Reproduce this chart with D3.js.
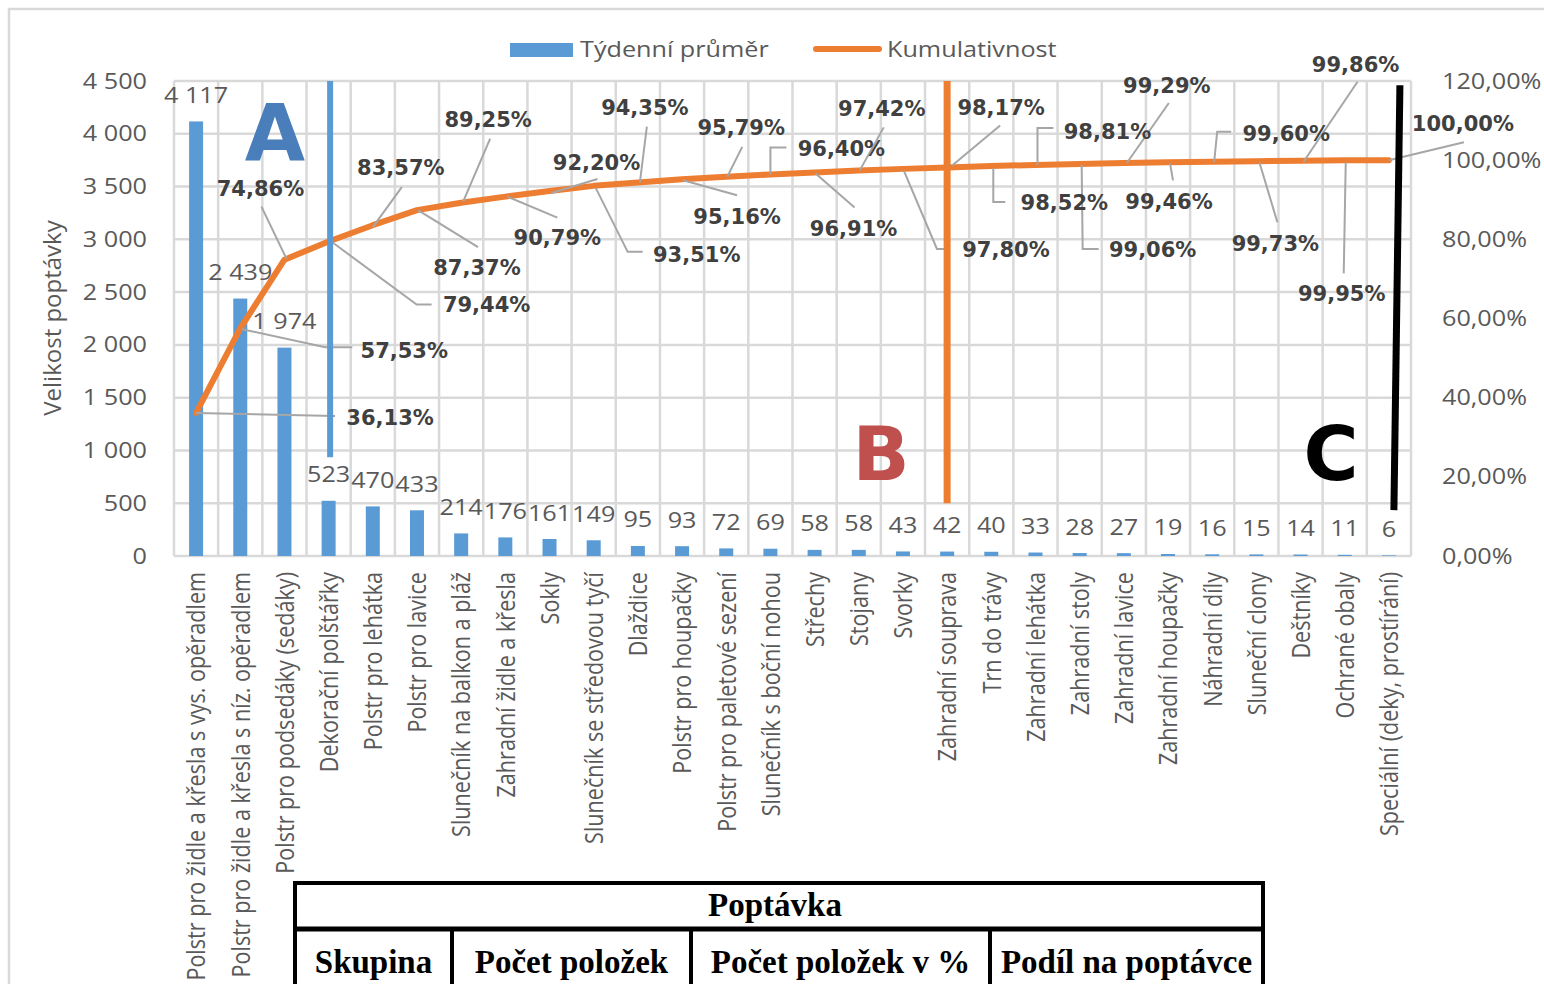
<!DOCTYPE html>
<html>
<head>
<meta charset="utf-8">
<script src="https://cdn.jsdelivr.net/npm/d3@7"></script>
<style>
  body { margin: 0; background: #fff; }
</style>
</head>
<body>
<svg width="1544" height="984" font-family="'Open Sans', sans-serif"></svg>
<script>
const categories = [
  "Polstr pro židle a křesla s vys. opěradlem",
  "Polstr pro židle a křesla s níz. opěradlem",
  "Polstr pro podsedáky (sedáky)",
  "Dekorační polštářky",
  "Polstr pro lehátka",
  "Polstr pro lavice",
  "Slunečník na balkon a pláž",
  "Zahradní židle a křesla",
  "Sokly",
  "Slunečník se středovou tyčí",
  "Dlaždice",
  "Polstr pro houpačky",
  "Polstr pro paletové sezení",
  "Slunečník s boční nohou",
  "Střechy",
  "Stojany",
  "Svorky",
  "Zahradní souprava",
  "Trn do trávy",
  "Zahradní lehátka",
  "Zahradní stoly",
  "Zahradní lavice",
  "Zahradní houpačky",
  "Náhradní díly",
  "Sluneční clony",
  "Deštníky",
  "Ochrané obaly",
  "Speciální (deky, prostírání)"
];
const weekly = [4117, 2439, 1974, 523, 470, 433, 214, 176, 161, 149, 95, 93, 72, 69,
  58, 58, 43, 42, 40, 33, 28, 27, 19, 16, 15, 14, 11, 6];
const cumulative = [36.13, 57.53, 74.86, 79.44, 83.57, 87.37, 89.25, 90.79, 92.20, 93.51,
  94.35, 95.16, 95.79, 96.40, 96.91, 97.42, 97.80, 98.17, 98.52, 98.81, 99.06, 99.29,
  99.46, 99.60, 99.73, 99.86, 99.95, 100.00];
const leftTicks = [0, 500, 1000, 1500, 2000, 2500, 3000, 3500, 4000, 4500];
const rightTicks = [0, 20, 40, 60, 80, 100, 120];
const legendNames = ["Týdenní průměr", "Kumulativnost"];
const tableTitle = "Poptávka";
const tableCols = ["Skupina", "Počet položek", "Počet položek v %", "Podíl na poptávce"];

// hand placed data labels (offset of label centre from the point, leader line pieces)
const pctLayout = [
  { l: [194, 4], p: [[0, 0], [139, 3]] },
  { l: [164, 22], p: [[2, 1], [85, 19], [112, 19]] },
  { l: [-24, -71], p: [[2, -1], [-23, -53]] },
  { l: [158, 63], p: [[4, 1], [88, 63], [103, 63]] },
  { l: [28, -58], p: [[0, 2], [29, -38]] },
  { l: [60, 57], p: [[1, 0], [61, 37]] },
  { l: [27, -83], p: [[2, -1], [29, -64]] },
  { l: [52, 41], p: [[2, 0], [52, 21]] },
  { l: [47, -29], p: [[2, 2], [48, -12]] },
  { l: [103, 69], p: [[2, 2], [34, 66], [49, 66]] },
  { l: [7, -75], p: [[2, 0], [9, -56]] },
  { l: [55, 37], p: [[1, 1], [55, 16]] },
  { l: [15, -49], p: [[1, 0], [16, -30]] },
  { l: [71, -26], p: [[0, 0], [0, -27], [16, -27]] },
  { l: [39, 56], p: [[1, 1], [40, 35]] },
  { l: [23, -62], p: [[1, 0], [25, -43]] },
  { l: [103, 81], p: [[1, 2], [34, 80], [42, 80]] },
  { l: [54, -60], p: [[5, -2], [53, -42]] },
  { l: [73, 36], p: [[2, 2], [2, 36], [14, 36]] },
  { l: [72, -33], p: [[2, 0], [2, -37], [18, -37]] },
  { l: [73, 86], p: [[2, 1], [3, 85], [19, 85]] },
  { l: [43, -78], p: [[3, 0], [45, -60]] },
  { l: [1, 39], p: [[2, 1], [5, 18]] },
  { l: [74, -28], p: [[2, 0], [5, -30], [19, -30]] },
  { l: [19, 82], p: [[3, 1], [21, 61]] },
  { l: [55, -96], p: [[3, 1], [57, -79]] },
  { l: [-3, 133], p: [[1, 2], [-1, 113]] },
  { l: [74, -37], p: [[0, 0], [75, -18]] }
];

const svg = d3.select("svg");
const plotL = 174, plotR = 1411, plotT = 81, plotB = 556;
const grey = "#595959", grid = "#D9D9D9";
const stretch = 1.2;

const loc = d3.formatLocale({ decimal: ",", thousands: " ", grouping: [3], currency: ["", ""] });
const fmtN = loc.format(",d");
const fmtP = v => loc.format(".2f")(v) + "%";

const x = d3.scaleBand().domain(categories).range([plotL, plotR]);
const bw = x.bandwidth();
const cx = c => x(c) + bw / 2;
const yL = d3.scaleLinear().domain([0, 4500]).range([plotB, plotT]);
const yR = d3.scaleLinear().domain([0, 120]).range([plotB, plotT]);

// outer chart border
svg.append("rect")
  .attr("x", 9).attr("y", 9).attr("width", 1600).attr("height", 1100)
  .attr("fill", "none").attr("stroke", grid).attr("stroke-width", 2.5);

function stxt(g, px, py, s) {
  return g.append("text")
    .attr("transform", `translate(${px},${py}) scale(${stretch},1)`)
    .text(s);
}

// gridlines
const gg = svg.append("g").attr("stroke", grid).attr("stroke-width", 2.5);
for (const t of leftTicks) {
  gg.append("line").attr("x1", plotL).attr("x2", plotR).attr("y1", yL(t)).attr("y2", yL(t));
}
for (const c of categories) {
  gg.append("line").attr("x1", x(c)).attr("x2", x(c)).attr("y1", plotT).attr("y2", plotB);
}
gg.append("line").attr("x1", plotR).attr("x2", plotR).attr("y1", plotT).attr("y2", plotB);

// axis labels
const ax = svg.append("g").attr("fill", grey).attr("font-size", 21);
for (const t of leftTicks) {
  stxt(ax, 147, yL(t) + 7.5, fmtN(t)).attr("text-anchor", "end");
}
for (const t of rightTicks) {
  stxt(ax, 1442, yR(t) + 7.5, fmtP(t));
}
ax.append("text")
  .attr("transform", `translate(52,318) rotate(-90)`)
  .attr("text-anchor", "middle").attr("dy", "0.36em")
  .attr("font-size", 24)
  .text("Velikost poptávky");

// category labels
const cl = svg.append("g").attr("fill", grey).attr("font-size", 21.6);
categories.forEach(c => {
  cl.append("text")
    .attr("transform", `translate(${cx(c)},572) scale(${stretch},1) rotate(-90)`)
    .attr("text-anchor", "end").attr("dy", "0.36em")
    .text(c);
});

// bars
svg.append("g").selectAll("rect").data(weekly).join("rect")
  .attr("x", (d, i) => cx(categories[i]) - 7)
  .attr("width", 14)
  .attr("y", d => yL(d))
  .attr("height", d => plotB - yL(d))
  .attr("fill", "#5B9BD5");

// bar value labels
const bl = svg.append("g").attr("fill", grey).attr("font-size", 21);
weekly.forEach((v, i) => {
  stxt(bl, cx(categories[i]), yL(v) - 18.5, fmtN(v)).attr("text-anchor", "middle");
});

// cumulative line
const pts = cumulative.map((v, i) => [cx(categories[i]), yR(v)]);
svg.append("path")
  .attr("d", d3.line()(pts))
  .attr("fill", "none").attr("stroke", "#ED7D31").attr("stroke-width", 6)
  .attr("stroke-linejoin", "round").attr("stroke-linecap", "round");

// leader lines and percent labels
const lg = svg.append("g");
cumulative.forEach((v, i) => {
  const [px, py] = pts[i];
  const L = pctLayout[i];
  lg.append("path")
    .attr("d", d3.line()(L.p.map(q => [px + q[0], py + q[1]])))
    .attr("fill", "none").attr("stroke", "#A6A6A6").attr("stroke-width", 2);
});
const pl = lg.append("g")
  .attr("font-family", "'DejaVu Sans', Verdana, sans-serif").attr("font-weight", "bold")
  .attr("font-size", 21).attr("fill", "#404040").attr("text-anchor", "middle");
cumulative.forEach((v, i) => {
  const [px, py] = pts[i];
  const L = pctLayout[i];
  pl.append("text")
    .attr("x", px + L.l[0]).attr("y", py + L.l[1])
    .attr("dy", "0.36em")
    .text(fmtP(v));
});

// ABC split lines
const xA = cx(categories[3]) + 1.5;
svg.append("line").attr("x1", xA).attr("x2", xA).attr("y1", yL(4500)).attr("y2", yL(935))
  .attr("stroke", "#5B9BD5").attr("stroke-width", 6);
const xB = cx(categories[17]);
svg.append("line").attr("x1", xB).attr("x2", xB).attr("y1", yL(4500)).attr("y2", yL(500))
  .attr("stroke", "#ED7D31").attr("stroke-width", 7);
const xC = cx(categories[27]);
svg.append("line").attr("x1", xC + 11).attr("x2", xC + 5).attr("y1", yL(4460)).attr("y2", yL(435))
  .attr("stroke", "#000").attr("stroke-width", 7);

const big = svg.append("g").attr("font-family", "'DejaVu Sans', sans-serif").attr("font-weight", "bold")
  .attr("text-anchor", "middle");
big.append("text").attr("x", 275).attr("y", 160).attr("font-size", 78).attr("fill", "#4A7EBB").text("A");
big.append("text").attr("x", 881).attr("y", 480).attr("font-size", 75).attr("fill", "#C0504D").text("B");
big.append("text").attr("x", 1331).attr("y", 480).attr("font-size", 75).attr("fill", "#000").text("C");

// legend
const leg = svg.append("g").attr("fill", grey).attr("font-size", 21);
leg.append("rect").attr("x", 510).attr("y", 43).attr("width", 63).attr("height", 14).attr("fill", "#5B9BD5");
stxt(leg, 580, 57, legendNames[0]);
leg.append("line").attr("x1", 816).attr("x2", 879).attr("y1", 49).attr("y2", 49)
  .attr("stroke", "#ED7D31").attr("stroke-width", 6).attr("stroke-linecap", "round");
stxt(leg, 887, 57, legendNames[1]);

// table header under the chart
const tb = svg.append("g");
const tx0 = 295, tx1 = 1263, ty0 = 883, ty1 = 929;
const colEdges = [tx0, 452, 691, 990, tx1];
tb.append("rect").attr("x", tx0).attr("y", ty0).attr("width", tx1 - tx0).attr("height", 1100 - ty0)
  .attr("fill", "#fff").attr("stroke", "#000").attr("stroke-width", 4);
tb.append("line").attr("x1", tx0).attr("x2", tx1).attr("y1", ty1).attr("y2", ty1)
  .attr("stroke", "#000").attr("stroke-width", 5);
colEdges.slice(1, -1).forEach(e => {
  tb.append("line").attr("x1", e).attr("x2", e).attr("y1", ty1).attr("y2", 1100)
    .attr("stroke", "#000").attr("stroke-width", 4);
});
const tf = tb.append("g").attr("font-family", "'Liberation Serif', 'Times New Roman', serif")
  .attr("font-weight", "bold")
  .attr("font-size", 33).attr("text-anchor", "middle").attr("fill", "#000");
tf.append("text").attr("x", (tx0 + tx1) / 2 - 4).attr("y", 916).text(tableTitle);
tableCols.forEach((c, i) => {
  tf.append("text").attr("x", (colEdges[i] + colEdges[i + 1]) / 2).attr("y", 973).text(c);
});
</script>
</body>
</html>
